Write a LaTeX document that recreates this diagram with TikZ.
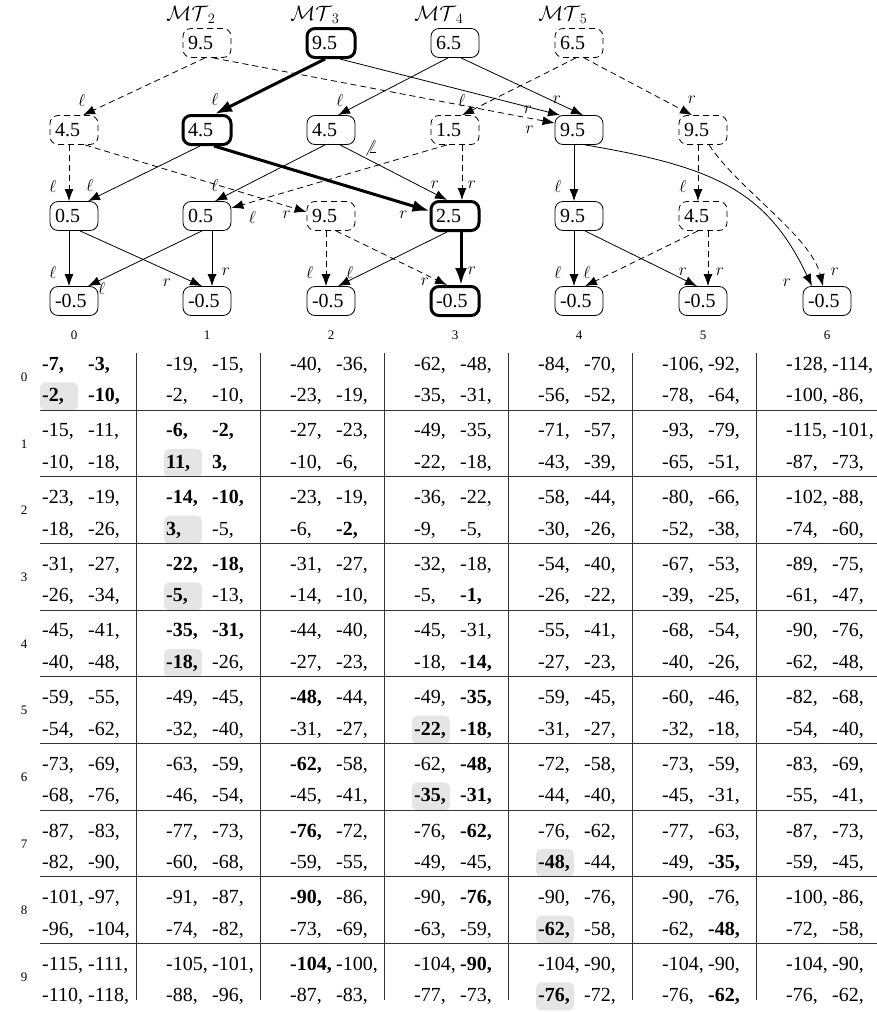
\documentclass[tikz,border=0pt]{standalone}
\usepackage{fontspec}
\setmainfont{Liberation Serif}
\usepackage{tikz}
\usetikzlibrary{arrows.meta}

% one cell of the table: row, column, four values
\newcommand{\tabcell}[6]{%
  \node[num] (v#1-#2a) at ({42+124*#2},{370.3+66.67*#1}) {\makebox[46pt][l]{#3}#4};
  \node[num] (v#1-#2b) at ({42+124*#2},{401.8+66.67*#1}) {\makebox[46pt][l]{#5}#6};
}
% grey mark behind the chosen value of a cell
\newcommand{\hlcell}[2]{%
  \fill[hlbox] ({40+124*#2},{382.3+66.67*#1}) rectangle +(38,28);
}

\begin{document}
\begin{tikzpicture}[x=1pt, y=-1pt,
    vbox/.style={draw, rounded corners=8pt, line width=0.8pt, text width=38pt, align=left,
                 inner xsep=5pt, inner ysep=0pt, minimum height=29pt, font=\fontsize{20}{24}\selectfont},
    vdbox/.style={vbox, dash pattern=on 6pt off 4pt},
    vtbox/.style={vbox, line width=3pt},
    edge/.style={-{Latex[length=12pt,width=9pt]}, line width=0.8pt},
    dedge/.style={edge, dash pattern=on 6pt off 4pt},
    tedge/.style={-{Latex[length=17pt,width=12pt]}, line width=3pt},
    lbl/.style={font=\fontsize{17}{20}\selectfont, inner sep=0pt},
    hdr/.style={font=\fontsize{21}{25}\selectfont, inner sep=0pt},
    idx/.style={font=\fontsize{13}{15}\selectfont, inner sep=0pt},
    num/.style={anchor=base west, inner sep=0pt, font=\fontsize{20}{23}\selectfont},
    hlbox/.style={fill=gray!20, rounded corners=5pt},
    tabline/.style={line width=0.8pt, black!80}]

    \useasboundingbox (0,0) rectangle (877,1012);

    % Names of the trees
    \node[hdr] (mt2) at (191,15) {$\mathcal{MT}_2$};
    \node[hdr] (mt3) at (315,15) {$\mathcal{MT}_3$};
    \node[hdr] (mt4) at (439,15) {$\mathcal{MT}_4$};
    \node[hdr] (mt5) at (563,15) {$\mathcal{MT}_5$};

    % Roots
    \node[vdbox] (A2) at (207,43) {9.5};
    \node[vtbox] (A3) at (331,43) {9.5};
    \node[vbox]  (A4) at (455,43) {6.5};
    \node[vdbox] (A5) at (579,43) {6.5};

    % Second level
    \node[vdbox] (B0) at (74,130) {4.5};
    \node[vtbox] (B1) at (207,130) {4.5};
    \node[vbox]  (B2) at (331,130) {4.5};
    \node[vdbox] (B3) at (455,130) {1.5};
    \node[vbox]  (B4) at (579,130) {9.5};
    \node[vdbox] (B5) at (703,130) {9.5};

    % Third level
    \node[vbox]  (C0) at (74,216) {0.5};
    \node[vbox]  (C1) at (207,216) {0.5};
    \node[vdbox] (C2) at (331,216) {9.5};
    \node[vtbox] (C3) at (455,216) {2.5};
    \node[vbox]  (C4) at (579,216) {9.5};
    \node[vdbox] (C5) at (703,216) {4.5};

    % Leaves
    \foreach \i/\x in {0/74,1/207,2/331,4/579,5/703,6/827}
        \node[vbox] (D\i) at (\x,301) {-0.5};
    \node[vtbox] (D3) at (455,301) {-0.5};

    % Edges from the roots
    \draw[dedge] ([xshift=-2pt]A2.south) -- ([xshift=9pt]B0.north) node[lbl, at end, shift={(-1,-15)}] {$\ell$};
    \draw[dedge] ([xshift=6pt]A2.south) -- ([yshift=7pt]B4.west) node[lbl, at end, shift={(-25,7)}] {$r$};
    \draw[tedge] ([xshift=-6pt]A3.south) -- ([xshift=8pt]B1.north) node[lbl, at end, shift={(0,-15)}] {$\ell$};
    \draw[edge] ([xshift=9pt]A3.south) -- ([xshift=-19pt]B4.north) node[lbl, at end, shift={(-32,-5)}] {$r$};
    \draw[edge] ([xshift=-7pt]A4.south) -- ([xshift=7pt]B2.north) node[lbl, at end, shift={(2,-15)}] {$\ell$};
    \draw[edge] ([xshift=6pt]A4.south) -- ([xshift=4pt]B4.north) node[lbl, at end, shift={(-26,-15)}] {$r$};
    \draw[dedge] ([xshift=-3pt]A5.south) -- ([xshift=7pt]B3.north) node[lbl, at end, shift={(0,-15)}] {$\ell$};
    \draw[dedge] ([xshift=5pt]A5.south) -- ([xshift=-11pt]B5.north) node[lbl, at end, shift={(0,-15)}] {$r$};

    % Edges from the second level
    \draw[dedge] ([xshift=-5pt]B0.south) -- ([xshift=-5pt]C0.north) node[lbl, at end, shift={(-16,-15)}] {$\ell$};
    \draw[dedge] ([xshift=11pt]B0.south) -- ([yshift=4pt]C2.west) node[lbl, at end, shift={(-20,3)}] {$r$};
    \draw[edge] ([xshift=-7pt]B1.south) -- ([xshift=14pt]C0.north) node[lbl, at end, shift={(2,-16)}] {$\ell$};
    \draw[tedge] ([xshift=7pt]B1.south) -- ([yshift=5pt]C3.west) node[lbl, at end, shift={(-26,4)}] {$r$};
    \draw[edge] ([xshift=-6pt]B2.south) -- ([xshift=8pt]C1.north) node[lbl, at end, shift={(0,-16)}] {$\ell$};
    \draw[edge] ([xshift=9pt]B2.south) -- ([xshift=-8pt]C3.north)
        node[lbl, pos=0.27, shift={(2,-12)}] {$\not\angle$}
        node[lbl, at end, shift={(-12,-15)}] {$r$};
    \draw[dedge] ([xshift=-8pt]B3.south) -- ([yshift=8pt]C1.east) node[lbl, at end, shift={(21,9)}] {$\ell$};
    \draw[dedge] ([xshift=7pt]B3.south) -- ([xshift=7pt]C3.north) node[lbl, at end, shift={(10,-15)}] {$r$};
    \draw[edge] ([xshift=-5pt]B4.south) -- ([xshift=-5pt]C4.north) node[lbl, at end, shift={(-16,-15)}] {$\ell$};
    \draw[edge] ([xshift=6pt]B4.south) .. controls +(130,22) and +(-45,-95) .. ([xshift=-15pt]D6.north)
        node[lbl, at end, shift={(-25,-3)}] {$r$};
    \draw[dedge] ([xshift=-5pt]B5.south) -- ([xshift=-5pt]C5.north) node[lbl, at end, shift={(-15,-15)}] {$\ell$};
    \draw[dedge] ([xshift=6pt]B5.south) .. controls +(30,45) and +(-12,-50) .. ([xshift=-4pt]D6.north)
        node[lbl, at end, shift={(12,-14)}] {$r$};

    % Edges to the leaves
    \draw[edge] ([xshift=-5pt]C0.south) -- ([xshift=-5pt]D0.north) node[lbl, at end, shift={(-16,-14)}] {$\ell$};
    \draw[edge] ([xshift=6pt]C0.south) -- ([xshift=-5pt]D1.north) node[lbl, at end, shift={(-35,-3)}] {$r$};
    \draw[edge] ([xshift=-5pt]C1.south) -- ([xshift=14pt]D0.north) node[lbl, at end, shift={(14,2)}] {$\ell$};
    \draw[edge] ([xshift=5pt]C1.south) -- ([xshift=5pt]D1.north) node[lbl, at end, shift={(14,-14)}] {$r$};
    \draw[dedge] ([xshift=-5pt]C2.south) -- ([xshift=-5pt]D2.north) node[lbl, at end, shift={(-16,-14)}] {$\ell$};
    \draw[dedge] ([xshift=5pt]C2.south) -- ([xshift=-8pt]D3.north) node[lbl, at end, shift={(-22,-3)}] {$r$};
    \draw[edge] ([xshift=-8pt]C3.south) -- ([xshift=7pt]D2.north) node[lbl, at end, shift={(12,-14)}] {$\ell$};
    \draw[tedge] ([xshift=6pt]C3.south) -- ([xshift=6pt]D3.north) node[lbl, at end, shift={(11,-14)}] {$r$};
    \draw[edge] ([xshift=-5pt]C4.south) -- ([xshift=-5pt]D4.north) node[lbl, at end, shift={(-16,-14)}] {$\ell$};
    \draw[edge] ([xshift=6pt]C4.south) -- ([xshift=-6pt]D5.north) node[lbl, at end, shift={(-14,-14)}] {$r$};
    \draw[dedge] ([xshift=-5pt]C5.south) -- ([xshift=6pt]D4.north) node[lbl, at end, shift={(2,-14)}] {$\ell$};
    \draw[dedge] ([xshift=5pt]C5.south) -- ([xshift=5pt]D5.north) node[lbl, at end, shift={(12,-14)}] {$r$};

    % Column and row numbers of the table
    \foreach \c/\x in {0/74,1/207,2/331,3/455,4/579,5/703,6/827}
        \node[idx] (col\c) at (\x,335) {\c};
    \foreach \r in {0,...,9}
        \node[idx] (row\r) at (24,{377.3+66.67*\r}) {\r};

    % Grey marks
    \hlcell{0}{0} \hlcell{1}{1} \hlcell{2}{1} \hlcell{3}{1} \hlcell{4}{1}
    \hlcell{5}{3} \hlcell{6}{3} \hlcell{7}{4} \hlcell{8}{4} \hlcell{9}{4}

    % Table lines
    \foreach \k in {1,...,6}
        \draw[tabline] ({12+124*\k},353) -- ({12+124*\k},1000);
    \foreach \k in {1,...,9}
        \draw[tabline] (40,{343.3+66.67*\k}) -- (877,{343.3+66.67*\k});

    % Row 0
    \tabcell{0}{0}{\textbf{-7,}}{\textbf{-3,}}{\textbf{-2,}}{\textbf{-10,}}
    \tabcell{0}{1}{-19,}{-15,}{-2,}{-10,}
    \tabcell{0}{2}{-40,}{-36,}{-23,}{-19,}
    \tabcell{0}{3}{-62,}{-48,}{-35,}{-31,}
    \tabcell{0}{4}{-84,}{-70,}{-56,}{-52,}
    \tabcell{0}{5}{-106,}{-92,}{-78,}{-64,}
    \tabcell{0}{6}{-128,}{-114,}{-100,}{-86,}
    % Row 1
    \tabcell{1}{0}{-15,}{-11,}{-10,}{-18,}
    \tabcell{1}{1}{\textbf{-6,}}{\textbf{-2,}}{\textbf{11,}}{\textbf{3,}}
    \tabcell{1}{2}{-27,}{-23,}{-10,}{-6,}
    \tabcell{1}{3}{-49,}{-35,}{-22,}{-18,}
    \tabcell{1}{4}{-71,}{-57,}{-43,}{-39,}
    \tabcell{1}{5}{-93,}{-79,}{-65,}{-51,}
    \tabcell{1}{6}{-115,}{-101,}{-87,}{-73,}
    % Row 2
    \tabcell{2}{0}{-23,}{-19,}{-18,}{-26,}
    \tabcell{2}{1}{\textbf{-14,}}{\textbf{-10,}}{\textbf{3,}}{-5,}
    \tabcell{2}{2}{-23,}{-19,}{-6,}{\textbf{-2,}}
    \tabcell{2}{3}{-36,}{-22,}{-9,}{-5,}
    \tabcell{2}{4}{-58,}{-44,}{-30,}{-26,}
    \tabcell{2}{5}{-80,}{-66,}{-52,}{-38,}
    \tabcell{2}{6}{-102,}{-88,}{-74,}{-60,}
    % Row 3
    \tabcell{3}{0}{-31,}{-27,}{-26,}{-34,}
    \tabcell{3}{1}{\textbf{-22,}}{\textbf{-18,}}{\textbf{-5,}}{-13,}
    \tabcell{3}{2}{-31,}{-27,}{-14,}{-10,}
    \tabcell{3}{3}{-32,}{-18,}{-5,}{\textbf{-1,}}
    \tabcell{3}{4}{-54,}{-40,}{-26,}{-22,}
    \tabcell{3}{5}{-67,}{-53,}{-39,}{-25,}
    \tabcell{3}{6}{-89,}{-75,}{-61,}{-47,}
    % Row 4
    \tabcell{4}{0}{-45,}{-41,}{-40,}{-48,}
    \tabcell{4}{1}{\textbf{-35,}}{\textbf{-31,}}{\textbf{-18,}}{-26,}
    \tabcell{4}{2}{-44,}{-40,}{-27,}{-23,}
    \tabcell{4}{3}{-45,}{-31,}{-18,}{\textbf{-14,}}
    \tabcell{4}{4}{-55,}{-41,}{-27,}{-23,}
    \tabcell{4}{5}{-68,}{-54,}{-40,}{-26,}
    \tabcell{4}{6}{-90,}{-76,}{-62,}{-48,}
    % Row 5
    \tabcell{5}{0}{-59,}{-55,}{-54,}{-62,}
    \tabcell{5}{1}{-49,}{-45,}{-32,}{-40,}
    \tabcell{5}{2}{\textbf{-48,}}{-44,}{-31,}{-27,}
    \tabcell{5}{3}{-49,}{\textbf{-35,}}{\textbf{-22,}}{\textbf{-18,}}
    \tabcell{5}{4}{-59,}{-45,}{-31,}{-27,}
    \tabcell{5}{5}{-60,}{-46,}{-32,}{-18,}
    \tabcell{5}{6}{-82,}{-68,}{-54,}{-40,}
    % Row 6
    \tabcell{6}{0}{-73,}{-69,}{-68,}{-76,}
    \tabcell{6}{1}{-63,}{-59,}{-46,}{-54,}
    \tabcell{6}{2}{\textbf{-62,}}{-58,}{-45,}{-41,}
    \tabcell{6}{3}{-62,}{\textbf{-48,}}{\textbf{-35,}}{\textbf{-31,}}
    \tabcell{6}{4}{-72,}{-58,}{-44,}{-40,}
    \tabcell{6}{5}{-73,}{-59,}{-45,}{-31,}
    \tabcell{6}{6}{-83,}{-69,}{-55,}{-41,}
    % Row 7
    \tabcell{7}{0}{-87,}{-83,}{-82,}{-90,}
    \tabcell{7}{1}{-77,}{-73,}{-60,}{-68,}
    \tabcell{7}{2}{\textbf{-76,}}{-72,}{-59,}{-55,}
    \tabcell{7}{3}{-76,}{\textbf{-62,}}{-49,}{-45,}
    \tabcell{7}{4}{-76,}{-62,}{\textbf{-48,}}{-44,}
    \tabcell{7}{5}{-77,}{-63,}{-49,}{\textbf{-35,}}
    \tabcell{7}{6}{-87,}{-73,}{-59,}{-45,}
    % Row 8
    \tabcell{8}{0}{-101,}{-97,}{-96,}{-104,}
    \tabcell{8}{1}{-91,}{-87,}{-74,}{-82,}
    \tabcell{8}{2}{\textbf{-90,}}{-86,}{-73,}{-69,}
    \tabcell{8}{3}{-90,}{\textbf{-76,}}{-63,}{-59,}
    \tabcell{8}{4}{-90,}{-76,}{\textbf{-62,}}{-58,}
    \tabcell{8}{5}{-90,}{-76,}{-62,}{\textbf{-48,}}
    \tabcell{8}{6}{-100,}{-86,}{-72,}{-58,}
    % Row 9
    \tabcell{9}{0}{-115,}{-111,}{-110,}{-118,}
    \tabcell{9}{1}{-105,}{-101,}{-88,}{-96,}
    \tabcell{9}{2}{\textbf{-104,}}{-100,}{-87,}{-83,}
    \tabcell{9}{3}{-104,}{\textbf{-90,}}{-77,}{-73,}
    \tabcell{9}{4}{-104,}{-90,}{\textbf{-76,}}{-72,}
    \tabcell{9}{5}{-104,}{-90,}{-76,}{\textbf{-62,}}
    \tabcell{9}{6}{-104,}{-90,}{-76,}{-62,}
\end{tikzpicture}
\end{document}
